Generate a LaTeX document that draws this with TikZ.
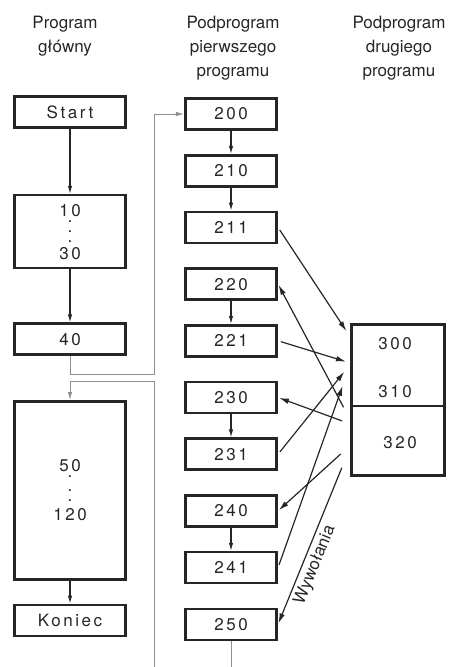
\documentclass[tikz,border=0pt]{standalone}
\usepackage{fontspec}
\setmainfont{TeX Gyre Heros}
\newfontfamily\boxfont[LetterSpace=15]{TeX Gyre Heros}
\usepackage{tikz}
\usetikzlibrary{arrows.meta,positioning,calc}
\definecolor{ink}{HTML}{262626}
\definecolor{faint}{HTML}{8E8E8E}

\begin{document}
\begin{tikzpicture}[
  x=1pt,y=-1pt,
  node distance=23.1pt,
  every node/.style={font=\fontsize{17}{24}\selectfont,align=center,text=ink},
  box/.style={draw=ink,line width=2.6pt,minimum width=91.5pt,minimum height=31pt,inner sep=2pt,font=\fontsize{17}{22}\boxfont},
  mainbox/.style={box,minimum width=110.5pt},
  num/.style={font=\fontsize{17}{22}\boxfont},
  arr/.style={-{Latex[length=10pt,width=5.5pt]},line width=1.2pt,color=ink,shorten <=3pt,shorten >=1pt},
  link/.style={-{Latex[length=8pt,width=4.5pt]},line width=1.1pt,color=ink},
  jump/.style={line width=1pt,color=faint}
]
\useasboundingbox (0,0) rectangle (448,667);
\node[anchor=north] (hmain) at (65,13) {Program\\główny};
\node[anchor=north] (hsub1) at (233,13) {Podprogram\\pierwszego\\programu};
\node[anchor=north] (hsub2) at (399,13) {Podprogram\\drugiego\\programu};

\node[mainbox] (start) at (70,112) {Start};
\node[mainbox,minimum height=73pt,below=65pt of start] (b10) {10\\[-16pt].\\[-12pt].\\[-12pt].\\[-5pt]30};
\node[mainbox,below=53pt of b10] (b40) {40};
\node[mainbox,minimum height=178pt,below=44pt of b40] (b50) {50\\[-16pt].\\[-8pt].\\[-12pt].\\[-3pt]120};
\node[mainbox,below=23pt of b50] (koniec) {Koniec};
\draw[link] (start) -- (b10);
\draw[link] (b10) -- (b40);
\draw[link] (b50) -- (koniec);

\node[box] (b200) at (231,114) {200};
\node[box,below=of b200] (b210) {210};
\node[box,below=of b210] (b211) {211};
\node[box,below=of b211] (b220) {220};
\node[box,below=of b220] (b221) {221};
\node[box,below=of b221] (b230) {230};
\node[box,below=of b230] (b231) {231};
\node[box,below=of b231] (b240) {240};
\node[box,below=of b240] (b241) {241};
\node[box,below=of b241] (b250) {250};
\foreach \a/\b in {b200/b210,b210/b211,b220/b221,b230/b231,b240/b241}
  \draw[link] (\a) -- (\b);

\node[draw=ink,line width=2.6pt,minimum width=93.5pt,minimum height=151.5pt] (sub) at (398,400) {};
\draw[ink,line width=2pt] ($(sub.north west)!0.54!(sub.south west)$) -- ($(sub.north east)!0.54!(sub.south east)$);
\node[num] (t300) at ($(sub.north)+(-3,21)$) {300};
\node[num] (t310) at ($(sub.north)+(-3,69)$) {310};
\node[num] (t320) at ($(sub.north)+(2,120)$) {320};

\coordinate (in211) at ($(sub.north west)+(-3,9)$);
\coordinate (in221) at ($(sub.north west)+(-3,39)$);
\coordinate (in231) at ($(sub.north west)+(-5,48)$);
\coordinate (in241) at ($(sub.north west)+(-7,62)$);
\coordinate (out220) at ($(sub.north west)+(-5,87)$);
\coordinate (out230) at ($(sub.north west)+(-5,99)$);
\coordinate (out240) at ($(sub.north west)+(-7,129)$);
\coordinate (out250) at ($(sub.north west)+(-7,142)$);
\draw[arr] (b211.east) -- (in211);
\draw[arr] (out220) -- (b220.east);
\draw[arr] (b221.east) -- (in221);
\draw[arr] (out230) -- (b230.east);
\draw[arr] (b231.east) -- (in231);
\draw[arr] (out240) -- (b240.east);
\draw[arr] (b241.east) -- (in241);
\draw[arr] (out250) -- node[sloped,below,pos=0.6] {Wywołania} (b250.east);

\coordinate (jmp) at (154,374);
\coordinate (back) at (154,381);
\coordinate (retin) at (154,667);
\coordinate (retout) at (b250.south |- retin);
\draw[jump,-{Latex[length=8pt,width=4.5pt]}] (b40.south) |- (jmp) |- (b200.west);
\draw[jump] (b250.south) -- (retout);
\draw[jump,-{Latex[length=8pt,width=4.5pt]}] (retin) -- (back) -| (b50.north);
\end{tikzpicture}
\end{document}
